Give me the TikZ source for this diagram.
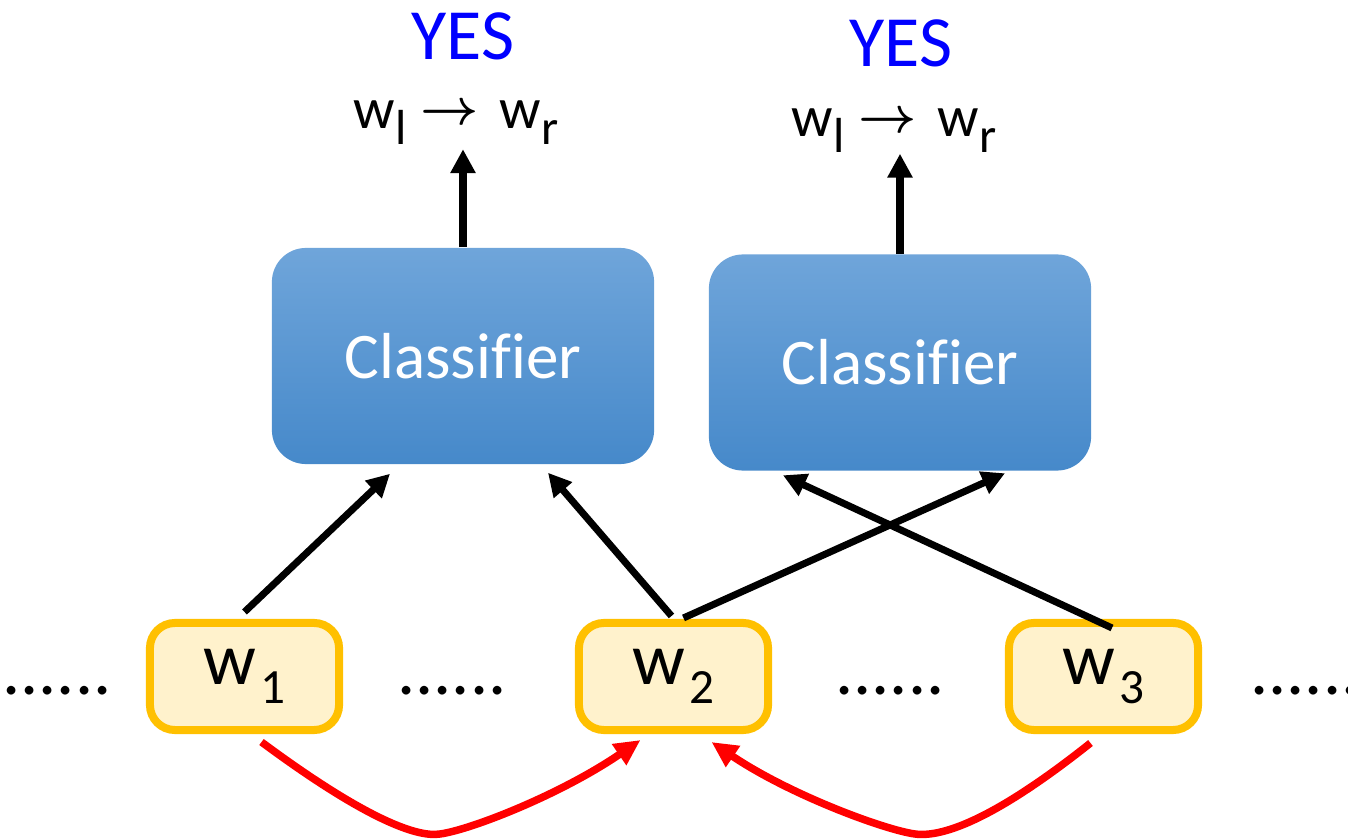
\documentclass[tikz,border=0pt]{standalone}
\usepackage{fontspec}
\setmainfont{Carlito}[Ligatures=NoCommon]
\usepackage{amsmath}
\usetikzlibrary{arrows.meta,calc}
\definecolor{clsTop}{HTML}{6FA5DA}
\definecolor{clsBot}{HTML}{4689CA}
\definecolor{wordFill}{HTML}{FFF2CC}
\definecolor{wordEdge}{HTML}{FFC000}
\definecolor{yesBlue}{HTML}{0000FF}
\definecolor{linkRed}{HTML}{FF0000}
% word with a lowered index
\newcommand{\wordsub}[1]{w\kern1pt\raisebox{-5.4pt}{\fontsize{14}{14}\selectfont #1}}
% w_l -> w_r label
\newcommand{\idx}[1]{\raisebox{-4.3pt}{\fontsize{14}{14}\selectfont #1}}
\newcommand{\ruleof}{w\idx{l}\hspace{4pt}\raisebox{1.4pt}{\fontsize{13.5}{13.5}\selectfont$\boldsymbol{\rightarrow}$}\hspace{6pt}w\idx{r}}
\newcommand{\clsname}{Classif\kern0pt ier}
\begin{document}
\begin{tikzpicture}[x=0.01cm,y=-0.01cm,
  classbox/.style={rounded corners=0.34cm, top color=clsTop, bottom color=clsBot,
    minimum width=3.82cm, minimum height=2.16cm, inner sep=0pt,
    text=white, font=\fontsize{18.5}{18.5}\selectfont},
  wordbox/.style={rounded corners=0.25cm, fill=wordFill, draw=wordEdge, line width=0.08cm,
    minimum width=1.89cm, minimum height=1.07cm, inner sep=0pt,
    font=\fontsize{21}{21}\selectfont},
  yeslabel/.style={text=yesBlue, font=\fontsize{20.5}{20.5}\selectfont, anchor=base, inner sep=0pt},
  rulelabel/.style={font=\fontsize{16.5}{16.5}\selectfont, anchor=base, inner sep=0pt},
  dotsnode/.style={font=\fontsize{20.5}{20.5}\selectfont, anchor=base, inner sep=0pt},
  feed/.style={line width=0.07cm, -{Triangle[length=0.23cm,width=0.23cm]}},
  up/.style={line width=0.08cm, -{Triangle[length=0.24cm,width=0.24cm]}},
  link/.style={draw=linkRed, line width=0.075cm, -{Triangle[length=0.26cm,width=0.24cm]}}]
\useasboundingbox (0,0) rectangle (1348,840);

% classifiers
\node[classbox] (c1) at (463,356) {\clsname};
\node[classbox] (c2) at (900,362.5) {\clsname};

% outputs
\node[yeslabel] (yes1) at (463,60) {YES};
\node[yeslabel] (yes2) at (901,67) {YES};
\node[rulelabel] (lab1) at (456,129) {\ruleof};
\node[rulelabel] (lab2) at (894,137) {\ruleof};
\coordinate (t1) at ($(c1.north)+(0,-98)$);
\coordinate (t2) at ($(c2.north)+(0,-100)$);
\draw[up] (c1.north) -- (t1);
\draw[up] (c2.north) -- (t2);

% words
\node[wordbox] (w1) at (244.5,676.5) {\wordsub{1}};
\node[wordbox] (w2) at (673.5,676.5) {\wordsub{2}};
\node[wordbox] (w3) at (1103.5,676.5) {\wordsub{3}};

% ellipses between the words
\node[dotsnode] (d1) at (57,695) {......};
\node[dotsnode] (d2) at (452,695) {......};
\node[dotsnode] (d3) at (890,695) {......};
\node[dotsnode] (d4) at (1305,695) {......};

% word features into the classifiers
\draw[feed] ($(w1.north)+(0,-7)$) -- ($(c1.south)+(-73,9)$);
\draw[feed] ($(w2.north)+(-2,-3)$) -- ($(c1.south)+(85,8)$);
\draw[feed] ($(w2.north)+(10,-1)$) -- ($(c2.south)+(105,2)$);
\draw[feed] ($(w3.north)+(8.5,9)$) -- ($(c2.south)+(-117,4)$);

% dependency arcs under the words
\draw[link] ($(w1.south)+(17,8)$) .. controls (360,815) and (415,838) .. (440,834)
  .. controls (470,830) and (560,795) .. ($(w2.south)+(-33,6)$);
\draw[link] ($(w3.south)+(-13,9)$) .. controls (1000,815) and (945,838) .. (915,834)
  .. controls (885,830) and (790,795) .. ($(w2.south)+(38,8)$);
\end{tikzpicture}
\end{document}
